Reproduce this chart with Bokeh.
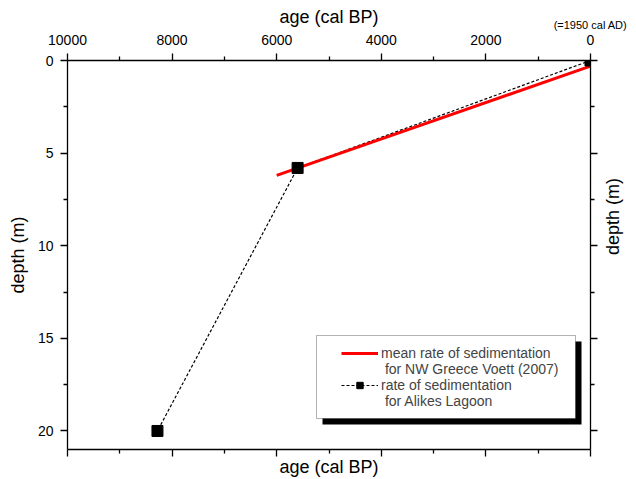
import math
from bokeh.plotting import figure
from bokeh.models import (Range1d, LinearAxis, FixedTicker, Legend,
                          LegendItem, BoxAnnotation)
from bokeh.embed import file_html
from bokeh.resources import INLINE

# ---- data ----
mean_age = [6000, 0]          # mean rate of sedimentation, NW Greece (Voett 2007)
mean_depth = [6.2, 0.3]
alikes_age = [0, 5600, 8280]  # Alikes Lagoon
alikes_depth = [0, 5.8, 20]
x_ticks = [0, 2000, 4000, 6000, 8000, 10000]
x_minor = [1000, 3000, 5000, 7000, 9000]
y_ticks = [0, 5, 10, 15, 20]
y_minor = [2.5, 7.5, 12.5, 17.5]
present_tick = [0]
present_label = "(=1950 cal AD)"
x_title = "age (cal BP)"
y_title = "depth (m)"
legend_labels = ["mean rate of sedimentation", " for NW Greece Voett (2007)",
                 "rate of sedimentation", " for Alikes Lagoon"]

FONT = "Liberation Sans"

p = figure(width=636, height=479, x_range=Range1d(10000, 0), y_range=Range1d(21, 0),
           output_backend="svg", toolbar_location=None,
           min_border_left=67, min_border_right=46, min_border_top=60, min_border_bottom=30)
p.grid.visible = False
p.outline_line_color = None
p.background_fill_color = "white"
p.border_fill_color = "white"


def style(ax, ticks, minor, labels, title=None, title_standoff=0, label_standoff=7):
    ax.ticker = FixedTicker(ticks=ticks, minor_ticks=minor)
    ax.axis_line_color = "black"
    ax.axis_line_width = 1.3
    ax.major_tick_line_color = "black"
    ax.major_tick_line_width = 1.3
    ax.minor_tick_line_color = "black"
    ax.minor_tick_line_width = 1.3
    ax.major_tick_in = 0
    ax.major_tick_out = 7
    ax.minor_tick_in = 0
    ax.minor_tick_out = 4
    ax.major_label_text_font = FONT
    ax.major_label_text_font_size = "14px"
    ax.major_label_text_color = "black" if labels else None
    ax.major_label_standoff = label_standoff
    if title:
        ax.axis_label = title
        ax.axis_label_text_font = FONT
        ax.axis_label_text_font_size = "18px"
        ax.axis_label_text_font_style = "normal"
        ax.axis_label_text_color = "black"
        ax.axis_label_standoff = title_standoff


# bottom: ticks only + title
xb = p.xaxis[0]
style(xb, x_ticks, x_minor, False, x_title, title_standoff=0, label_standoff=0)

# top: inner axis with tick labels
xt = LinearAxis()
p.add_layout(xt, "above")
style(xt, x_ticks, x_minor, True, label_standoff=9)

# top: outer axis carrying the title and the "(=1950 cal AD)" note
xt2 = LinearAxis()
p.add_layout(xt2, "above")
xt2.ticker = FixedTicker(ticks=present_tick, minor_ticks=[])
xt2.major_label_overrides = {present_tick[0]: present_label}
xt2.axis_line_color = None
xt2.major_tick_line_color = None
xt2.minor_tick_line_color = None
xt2.major_tick_in = 0
xt2.major_tick_out = 0
xt2.minor_tick_in = 0
xt2.minor_tick_out = 0
xt2.major_label_standoff = 1
xt2.major_label_text_font = FONT
xt2.major_label_text_font_size = "11px"
xt2.major_label_text_color = "black"
xt2.axis_label = x_title
xt2.axis_label_text_font = FONT
xt2.axis_label_text_font_size = "18px"
xt2.axis_label_text_font_style = "normal"
xt2.axis_label_text_color = "black"
xt2.axis_label_standoff = -11

# left
yl = p.yaxis[0]
style(yl, y_ticks, y_minor, True, y_title, title_standoff=7, label_standoff=7)

# right
yr = LinearAxis()
p.add_layout(yr, "right")
style(yr, y_ticks, y_minor, False, y_title, title_standoff=15, label_standoff=0)
try:
    yr.axis_label_orientation = math.pi / 2
except Exception:
    pass

r_dash = p.line(alikes_age, alikes_depth, line_color="black", line_width=1.2, line_dash="3 2")
r_red = p.line(mean_age, mean_depth, line_color="#ff0000", line_width=3)
r_sq = p.scatter(alikes_age, alikes_depth, marker="square", size=11, color="black")
r_blank = p.line([], [], line_alpha=0)

# legend box with drop shadow (screen px relative to the plot frame)
p.add_layout(BoxAnnotation(left=255, right=514, top=108, bottom=25,
                           left_units="screen", right_units="screen",
                           top_units="screen", bottom_units="screen",
                           fill_color="black", fill_alpha=1, line_color=None))
p.add_layout(BoxAnnotation(left=249, right=508, top=114, bottom=31,
                           left_units="screen", right_units="screen",
                           top_units="screen", bottom_units="screen",
                           fill_color="white", fill_alpha=1, line_color="black", line_width=1))

legend = Legend(items=[
    LegendItem(label=legend_labels[0], renderers=[r_red]),
    LegendItem(label=legend_labels[1], renderers=[r_blank]),
    LegendItem(label=legend_labels[2], renderers=[r_dash, r_sq]),
    LegendItem(label=legend_labels[3], renderers=[r_blank]),
], location=(274, 40), padding=0, spacing=0, margin=0,
    border_line_color=None, background_fill_alpha=0,
    glyph_width=37, glyph_height=16, label_height=16, label_standoff=3,
    label_text_font=FONT, label_text_font_size="14px")
p.add_layout(legend)

open("out.html", "w").write(file_html(p, INLINE))
